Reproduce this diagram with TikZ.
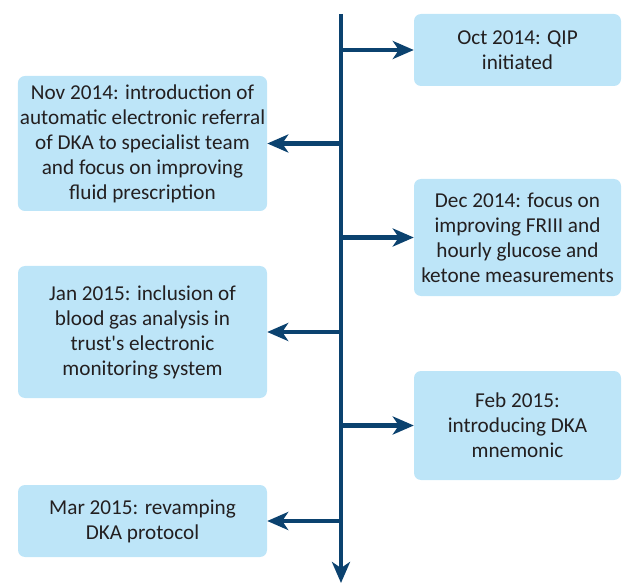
\documentclass[tikz,border=0pt]{standalone}
\usepackage{fontspec}
\setmainfont{Carlito}
\usepackage{xcolor}
\usetikzlibrary{arrows.meta}
\definecolor{boxblue}{HTML}{BDE5F8}
\definecolor{navy}{HTML}{0B426F}
\definecolor{ink}{HTML}{231F20}
\begin{document}
\begin{tikzpicture}[x=1pt,y=-1pt,
    event/.style={fill=boxblue,rounded corners=7pt,align=center,inner sep=2pt,
        text=ink,font=\fontsize{21.2}{25}\selectfont},
    leftbox/.style={event,minimum width=249pt},
    rightbox/.style={event,minimum width=207pt},
    link/.style={navy,line width=4.5pt,-{Stealth[length=21pt,width=18pt,inset=6pt]}}]
            \useasboundingbox (0,0) rectangle (622,583);
            \node[rightbox,minimum height=72pt] (oct) at (517.5,50) {Oct 2014: QIP\\initiated};
            \node[leftbox,minimum height=135pt] (nov) at (142.5,143.5) {Nov 2014: introduction of\\automatic electronic referral\\of DKA to specialist team\\and focus on improving\\fluid prescription};
            \node[rightbox,minimum height=117pt] (dec) at (517.5,237.5) {Dec 2014: focus on\\improving FRIII and\\hourly glucose and\\ketone measurements};
            \node[leftbox,minimum height=132pt] (jan) at (142.5,332) {Jan 2015: inclusion of\\blood gas analysis in\\trust\textquotesingle s electronic\\monitoring system};
            \node[rightbox,minimum height=109pt] (feb) at (517.5,425.5) {Feb 2015:\\introducing DKA\\mnemonic};
            \node[leftbox,minimum height=72pt] (mar) at (142.5,521) {Mar 2015: revamping\\DKA protocol};
            \coordinate (spine top) at (341,14);
            \coordinate (spine end) at (341,583);
            \draw[link] (spine top) -- (spine end);
            \foreach \ev in {oct,dec,feb}
            \draw[link] (spine top |- \ev.west) -- (\ev.west);
            \foreach \ev in {nov,jan,mar}
            \draw[link] (spine top |- \ev.east) -- (\ev.east);
        \end{tikzpicture}
\end{document}
